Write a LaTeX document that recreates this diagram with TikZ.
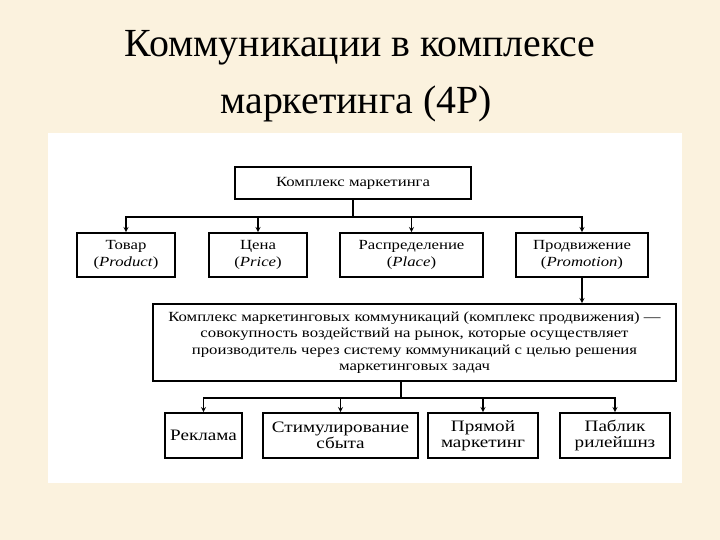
\documentclass[tikz,border=0pt]{standalone}
\usepackage{fontspec}
\setmainfont{Liberation Serif}
\newfontfamily\boxfont[FakeStretch=1.2]{Liberation Serif}
\usepackage{tikz}
\usetikzlibrary{arrows}
\usetikzlibrary{calc}
\definecolor{slidebg}{RGB}{251,242,222}
\tikzstyle{title} = [inner sep=0pt, anchor=base, font=\fontsize{40}{48}\selectfont]
\tikzstyle{box} = [rectangle, inner sep=0pt, align=center, text centered, draw=black, line width=1.6bp, fill=white, font=\boxfont\fontsize{14}{16.5}\selectfont]
\tikzstyle{tool} = [box, font=\boxfont\fontsize{16}{16.5}\selectfont]
\tikzstyle{line} = [line width=1.3bp]
\tikzstyle{arrow} = [line width=1.3bp,->,>=stealth]

\begin{document}
\begin{tikzpicture}[x=1bp, y=-1bp]
\useasboundingbox (0,0) rectangle (720,540);
\fill[slidebg] (0,0) rectangle (720,540);
\fill[white] (48,133) rectangle (682,483);
% title
\node (title1) [title] at (360,57) {Коммуникации в комплексе};
\node (title2) [title] at (356,114) {маркетинга (4Р)};
% 4P
\node (kompleks) [box, minimum width=236bp, minimum height=32bp] at (353,183) {Комплекс маркетинга};
\node (tovar) [box, minimum width=98bp, minimum height=44bp] at (126,255) {Товар\\(\textit{Product})};
\node (cena) [box, minimum width=98bp, minimum height=44bp] at (258,255) {Цена\\(\textit{Price})};
\node (place) [box, minimum width=143bp, minimum height=44bp] at (411.5,255) {Распределение\\(\textit{Place})};
\node (promo) [box, minimum width=132bp, minimum height=44bp] at (582,255) {Продвижение\\(\textit{Promotion})};
% promotion mix
\node (mix) [box, minimum width=523bp, minimum height=77bp] at (414.5,342.5) {Комплекс маркетинговых коммуникаций (комплекс продвижения) —\\совокупность воздействий на рынок, которые осуществляет\\производитель через систему коммуникаций с целью решения\\маркетинговых задач};
\node (reklama) [tool, minimum width=77bp, minimum height=45bp] at (203.5,435.5) {Реклама};
\node (stimul) [tool, minimum width=155bp, minimum height=45bp] at (340.5,435.5) {Стимулирование\\сбыта};
\node (direct) [tool, minimum width=110bp, minimum height=45bp] at (483,435.5) {Прямой\\маркетинг};
\node (pr) [tool, minimum width=110bp, minimum height=45bp] at (615,435.5) {Паблик\\рилейшнз};
\coordinate (hub1) at (353,217);
\coordinate (hub2) at (401,398);
\draw [line] (kompleks) -- (hub1);
\draw [arrow] (hub1) -| (tovar);
\draw [arrow] (hub1) -| (cena);
\draw [arrow] (hub1) -| (place);
\draw [arrow] (hub1) -| (promo);
\draw [arrow] (promo.south) -- (promo.south |- mix.north);
\draw [line] (mix.south -| hub2) -- (hub2);
\draw [arrow] (hub2) -| (reklama);
\draw [arrow] (hub2) -| (stimul);
\draw [arrow] (hub2) -| (direct);
\draw [arrow] (hub2) -| (pr);
\end{tikzpicture}
\end{document}
